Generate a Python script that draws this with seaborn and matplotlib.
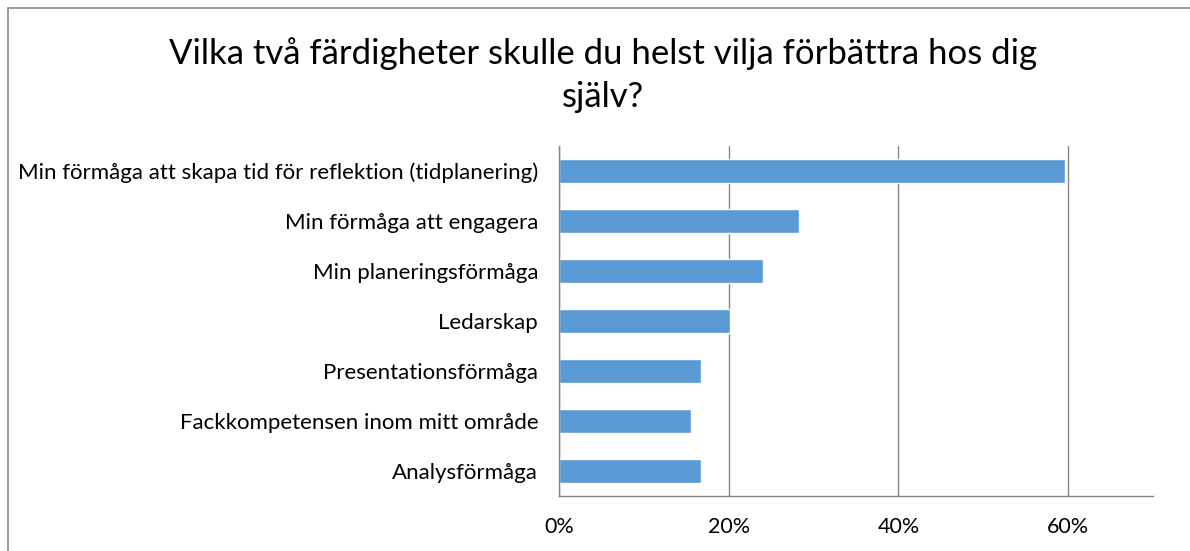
import matplotlib
matplotlib.use("Agg")
import matplotlib.pyplot as plt
import seaborn as sns
import pandas as pd
from matplotlib.lines import Line2D
from matplotlib.ticker import FuncFormatter

# data
categories = [
    "Min förmåga att skapa tid för reflektion (tidplanering)",
    "Min förmåga att engagera",
    "Min planeringsförmåga",
    "Ledarskap",
    "Presentationsförmåga",
    "Fackkompetensen inom mitt område",
    "Analysförmåga",
]
shares = [59.6, 28.3, 24.0, 20.2, 16.7, 15.5, 16.7]
x_ticks = [0, 20, 40, 60]

title = "Vilka två färdigheter skulle du helst vilja förbättra hos dig\nsjälv?"

sns.set_style("white")
plt.rcParams["font.family"] = ["Lato", "DejaVu Sans"]

df = pd.DataFrame({"kategori": categories, "andel": shares})

fig = plt.figure(figsize=(11.9, 5.51), dpi=100)
ax = fig.add_axes([559 / 1190, 1 - 496 / 551, (1153 - 559) / 1190, 350 / 551])

sns.barplot(data=df, x="andel", y="kategori", orient="h", color="#5B9BD5",
            saturation=1, width=0.48, ax=ax)

ax.set_xlim(0, 70)
ax.set_ylim(6.5, -0.5)
ax.set_xticks(x_ticks)
ax.xaxis.set_major_formatter(FuncFormatter(lambda v, _: f"{v:.0f}%"))
ax.set_xlabel("")
ax.set_ylabel("")
ax.grid(axis="x", color="#868686", linewidth=1)
ax.set_axisbelow(True)
ax.tick_params(axis="x", length=0, pad=15, labelsize=15.5, colors="#000000")
ax.tick_params(axis="y", length=0, pad=15, labelsize=16, colors="#000000")

for side in ["top", "right"]:
    ax.spines[side].set_visible(False)
for side in ["left", "bottom"]:
    ax.spines[side].set_color("#868686")
    ax.spines[side].set_linewidth(1)

fig.text(603 / 1190, 1 - 75 / 551, title, ha="center", va="center",
         fontsize=25, linespacing=1.45, color="#000000")

# outer chart border (top and left visible in reference)
fig.add_artist(Line2D([8 / 1190, 1], [1 - 8 / 551, 1 - 8 / 551],
                      transform=fig.transFigure, color="#8c8c8c", linewidth=1.2))
fig.add_artist(Line2D([8 / 1190, 8 / 1190], [0, 1 - 8 / 551],
                      transform=fig.transFigure, color="#8c8c8c", linewidth=1.2))

fig.savefig("out.png", dpi=100)
